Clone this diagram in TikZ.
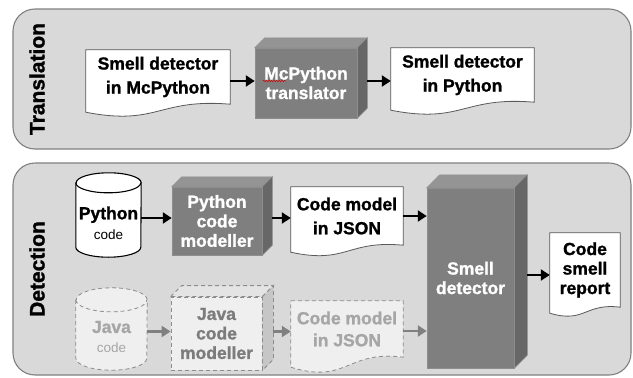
\documentclass[tikz,border=0pt]{standalone}
\usepackage{fontspec}
\setmainfont{Liberation Sans}[BoldFeatures={FakeBold=1.2}]
\usetikzlibrary{calc,arrows.meta,decorations.pathmorphing}

\pgfdeclarelayer{bg}
\pgfdeclarelayer{mid}
\pgfsetlayers{bg,mid,main}

\definecolor{panelfill}{HTML}{D9D9D9}
\definecolor{panelline}{HTML}{808080}
\definecolor{cubefront}{HTML}{7F7F7F}
\definecolor{cubetop}{HTML}{949494}
\definecolor{cubeside}{HTML}{676767}
\definecolor{cubeedge}{HTML}{8E8E8E}
\definecolor{ghostfill}{HTML}{EFEFEF}
\definecolor{ghosttop}{HTML}{E4E4E4}
\definecolor{ghostside}{HTML}{C6C6C6}
\definecolor{ghostline}{HTML}{8C8C8C}
\definecolor{ghosttext}{HTML}{A6A6A6}
\definecolor{ghostdark}{HTML}{7C7C7C}
\definecolor{ghostarrow}{HTML}{808080}

\tikzset{
  panel/.style={draw=panelline, fill=panelfill, line width=1.1pt,
    rounded corners=22pt, inner sep=0pt},
  paneltitle/.style={rotate=90, inner sep=0pt,
    font=\fontsize{21}{24}\selectfont\bfseries},
  box/.style={inner sep=0pt, align=center},
  doc/.style={box, font=\fontsize{17.5}{24}\selectfont\bfseries},
  docedge/.style={draw=black!65, fill=white, line width=0.8pt},
  ghostdoc/.style={box, text=ghosttext, font=\fontsize{17.5}{22}\selectfont\bfseries},
  ghostedge/.style={draw=ghostline, fill=ghostfill, line width=0.8pt,
    dash pattern=on 4pt off 3pt},
  cube/.style={box, fill=cubefront, draw=cubeedge, line width=0.5pt, text=white,
    font=\fontsize{17.5}{19.5}\selectfont\bfseries},
  cubetopface/.style={fill=cubetop, draw=cubeedge, line width=0.5pt},
  cubesideface/.style={fill=cubeside, draw=cubeedge, line width=0.5pt},
  ghostcube/.style={box, fill=ghostfill, draw=ghostline, line width=0.8pt,
    dash pattern=on 4pt off 3pt, text=ghostdark,
    font=\fontsize{17.5}{19.5}\selectfont\bfseries},
  ghosttopface/.style={fill=ghosttop, draw=ghostline, line width=0.8pt,
    dash pattern=on 4pt off 3pt},
  ghostsideface/.style={fill=ghostside, draw=ghostline, line width=0.8pt,
    dash pattern=on 4pt off 3pt},
  drum/.style={draw=black, fill=white, line width=1.1pt},
  ghostdrum/.style={draw=ghostline, fill=ghostfill, line width=0.8pt,
    dash pattern=on 4pt off 3pt},
  arr/.style={line width=2.4pt, -{Triangle[length=9pt,width=11pt]}},
  ghostarr/.style={arr, draw=ghostarrow},
  squiggle/.style={draw=red!85!black, line width=0.5pt,
    decorate, decoration={snake, amplitude=0.7pt, segment length=2.6pt}}
}

% document symbol: straight top and sides, wavy bottom edge
\newcommand\docshape[3]{%
  \begin{pgfonlayer}{mid}
    \path[#1] (#2.north west) -- (#2.north east) -- (#2.south east)
      .. controls ($(#2.south east)!0.5!(#2.south west)+(0pt,0.75*#3)$)
         and ($(#2.south east)!0.5!(#2.south west)+(0pt,-2.75*#3)$)
      .. ($(#2.south west)+(0pt,-#3)$) -- cycle;
  \end{pgfonlayer}}

% top and right faces of a box drawn in oblique projection
\newcommand\cubefaces[4]{%
  \begin{pgfonlayer}{mid}
    \path[#3] (#1.north west) -- ++(#2,#2) -- ($(#1.north east)+(#2,#2)$)
      -- (#1.north east) -- cycle;
    \path[#4] (#1.north east) -- ++(#2,#2) -- ($(#1.south east)+(#2,#2)$)
      -- (#1.south east) -- cycle;
  \end{pgfonlayer}}

% upright cylinder around a body node
\newcommand\drumshape[4]{%
  \begin{pgfonlayer}{mid}
    \path[#1] (#2.north west) -- (#2.south west)
      arc[start angle=180, end angle=360, x radius=#3, y radius=#4]
      -- (#2.north east)
      arc[start angle=0, end angle=180, x radius=#3, y radius=#4] -- cycle;
    \path[#1, fill=none] (#2.north west)
      arc[start angle=180, end angle=360, x radius=#3, y radius=#4];
  \end{pgfonlayer}}

\begin{document}
\begin{tikzpicture}[x=1pt, y=-1pt]
\useasboundingbox (0,0) rectangle (633,378);

% ---------- panels ----------
\begin{pgfonlayer}{bg}
  \node[panel, minimum width=618pt, minimum height=140pt] (ptrans) at (322,79) {};
  \node[panel, minimum width=618pt, minimum height=212pt] (pdetect) at (322,269) {};
\end{pgfonlayer}
\node[paneltitle] (ttrans) at (37,79) {Translation};
\node[paneltitle] (tdetect) at (37,269) {Detection};

% ---------- translation ----------
\node[doc, minimum width=144pt, minimum height=54pt] (d1) at (158,77)
  {Smell detector\\in McPython};
\docshape{docedge}{d1}{8pt}

\node[cube, minimum width=102pt, minimum height=70pt] (tr) at (306,83)
  {McPython\\translator};
\cubefaces{tr}{10pt}{cubetopface}{cubesideface}
\draw[squiggle] ([xshift=-43pt,yshift=2pt]tr.center) -- ([xshift=-20pt,yshift=2pt]tr.center);

\node[doc, minimum width=143pt, minimum height=54pt] (d3) at (462.5,75)
  {Smell detector\\in Python};
\docshape{docedge}{d3}{8pt}

\draw[arr] ([yshift=2pt]tr.west -| d1.east) -- ([yshift=2pt]tr.west);
\draw[arr] ([xshift=10pt,yshift=2pt]tr.east) -- ([yshift=2pt]tr.east -| d3.west);

% ---------- detection: Python ----------
\node[box, minimum width=65pt, minimum height=64pt] (pyc) at (108.5,215) {};
\drumshape{drum}{pyc}{32.5pt}{10pt}
\node[box, font=\fontsize{17.5}{20}\selectfont] (pyct) at (108.5,223)
  {\textbf{Python}\\{\fontsize{13.5}{20}\selectfont code}};

\node[cube, minimum width=90pt, minimum height=68pt] (pcm) at (217,221)
  {Python\\code\\modeller};
\cubefaces{pcm}{10pt}{cubetopface}{cubesideface}

\node[doc, minimum width=112pt, minimum height=58pt] (d4) at (347,216)
  {Code model\\in JSON};
\docshape{docedge}{d4}{7pt}

\node[cube, minimum width=87pt, minimum height=180pt] (sd) at (470.5,278)
  {Smell\\detector};
\cubefaces{sd}{13pt}{cubetopface}{cubesideface}

\node[doc, font=\fontsize{17.5}{19.5}\selectfont\bfseries,
  minimum width=70pt, minimum height=74pt] (rep) at (585,270)
  {Code\\smell\\report};
\docshape{docedge}{rep}{6pt}

\draw[arr] ([yshift=3pt]pcm.west -| pyc.east) -- ([yshift=3pt]pcm.west);
\draw[arr] ([xshift=10pt,yshift=3pt]pcm.east) -- ([yshift=3pt]pcm.east -| d4.west);
\draw[arr] (d4.east) -- (d4.east -| sd.west);
\draw[arr] ([xshift=13pt,yshift=3pt]sd.east) -- ([yshift=3pt]sd.east -| rep.west);

% ---------- detection: Java ----------
\node[box, minimum width=71pt, minimum height=58pt] (jc) at (111.5,329) {};
\drumshape{ghostdrum}{jc}{35.5pt}{12pt}
\node[box, text=ghosttext, font=\fontsize{17.5}{20}\selectfont] (jct) at (111.5,337)
  {\textbf{Java}\\{\fontsize{13.5}{20}\selectfont code}};

\node[ghostcube, minimum width=91pt, minimum height=73pt] (jcm) at (216.5,333.5)
  {Java\\code\\modeller};
\cubefaces{jcm}{11pt}{ghosttopface}{ghostsideface}

\node[ghostdoc, minimum width=112pt, minimum height=56pt] (d5) at (347,329)
  {Code model\\in JSON};
\docshape{ghostedge}{d5}{10pt}

\draw[ghostarr] ([yshift=2pt]jcm.west -| jc.east) -- ([yshift=2pt]jcm.west);
\draw[ghostarr] ([xshift=11pt,yshift=2pt]jcm.east) -- ([yshift=2pt]jcm.east -| d5.west);
\draw[ghostarr] ([yshift=-2pt]d5.east) -- ([yshift=-2pt]d5.east -| sd.west);
\end{tikzpicture}
\end{document}
